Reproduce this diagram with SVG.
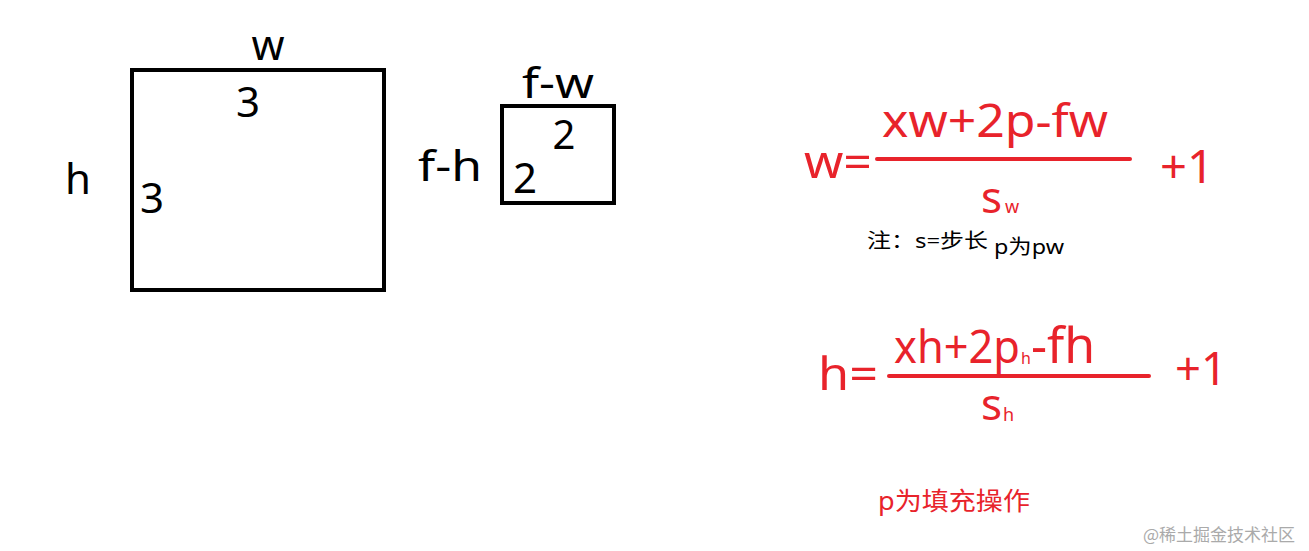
<svg xmlns="http://www.w3.org/2000/svg" width="1309" height="551" viewBox="0 0 1309 551">
<style>
.k{font-family:"Noto Sans","Noto Sans CJK SC",sans-serif;fill:#000}
.r{font-family:"Noto Sans","Noto Sans CJK SC",sans-serif;fill:#e8232b}
.box{fill:none;stroke:#000;stroke-width:4}
.bar{stroke:#e8232b;stroke-width:4;stroke-linecap:round}
</style>
<rect width="1309" height="551" fill="#fff"/>
<g id="input">
<rect class="box" x="132" y="70" width="252" height="220"/>
<text class="k" x="268" y="60" font-size="42" text-anchor="middle">w</text>
<text class="k" x="248" y="117" font-size="42" text-anchor="middle">3</text>
<text class="k" x="78" y="194" font-size="42" text-anchor="middle">h</text>
<text class="k" x="152" y="213" font-size="42" text-anchor="middle">3</text>
</g>
<g id="filter">
<rect class="box" x="502" y="106" width="112" height="97"/>
<text class="k" x="522" y="98" font-size="42" textLength="72" lengthAdjust="spacingAndGlyphs">f-w</text>
<text class="k" x="564" y="149" font-size="40" text-anchor="middle">2</text>
<text class="k" x="418" y="181" font-size="42" textLength="64" lengthAdjust="spacingAndGlyphs">f-h</text>
<text class="k" x="525" y="193" font-size="42" text-anchor="middle">2</text>
</g>
<g id="formula-w">
<text class="r" x="804" y="178" font-size="46" textLength="68" lengthAdjust="spacingAndGlyphs">w=</text>
<text class="r" x="882" y="137" font-size="46" textLength="226" lengthAdjust="spacingAndGlyphs">xw+2p-fw</text>
<line class="bar" x1="877" y1="159" x2="1130" y2="159"/>
<text class="r" x="981" y="213" font-size="44">s</text>
<text class="r" x="1005" y="213" font-size="18">w</text>
<text class="r" x="1160" y="183" font-size="46" textLength="54" lengthAdjust="spacingAndGlyphs">+1</text>
<text class="k" x="867" y="248" font-size="20" textLength="121" lengthAdjust="spacingAndGlyphs">注：s=步长</text>
<text class="k" x="994" y="254" font-size="20" textLength="70" lengthAdjust="spacingAndGlyphs">p为pw</text>
</g>
<g id="formula-h">
<text class="r" x="818" y="390" font-size="46" textLength="60" lengthAdjust="spacingAndGlyphs">h=</text>
<text class="r" x="894" y="363" font-size="46" textLength="126" lengthAdjust="spacingAndGlyphs">xh+2p</text>
<text class="r" x="1021" y="364" font-size="16">h</text>
<text class="r" x="1031" y="363" font-size="50">-fh</text>
<line class="bar" x1="889" y1="376" x2="1149" y2="376"/>
<text class="r" x="981" y="420" font-size="44">s</text>
<text class="r" x="1003" y="421" font-size="18">h</text>
<text class="r" x="1175" y="385" font-size="46" textLength="52" lengthAdjust="spacingAndGlyphs">+1</text>
</g>
<g id="note">
<text class="r" x="878" y="510" font-size="25" textLength="152" lengthAdjust="spacingAndGlyphs">p为填充操作</text>
<text x="1143" y="541" font-size="17" fill="#aaa" font-family="Noto Sans CJK SC,sans-serif">@稀土掘金技术社区</text>
</g>
<g id="connectors"/>
</svg>
